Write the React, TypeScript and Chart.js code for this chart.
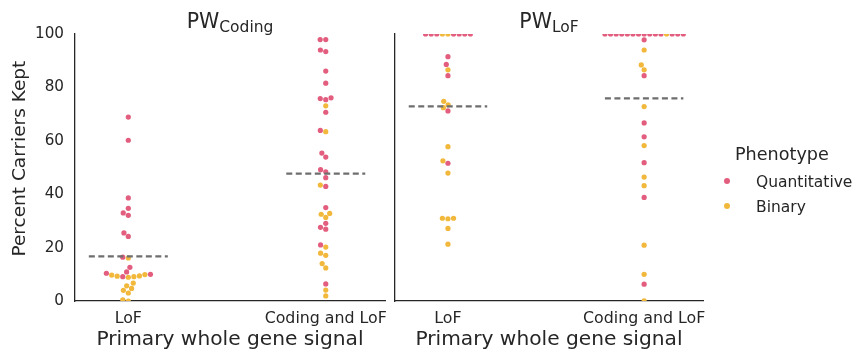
import React, { useEffect, useRef } from "react";
import { Chart, registerables } from "chart.js";

Chart.register(...registerables);

const FONT = "'DejaVu Sans', 'Liberation Sans', sans-serif";
const TEXT = "#262626";

const categories = ["LoF", "Coding and LoF"];
const panelSubscripts = ["Coding", "LoF"];
const hueNames = ["Quantitative", "Binary"];
const hueCodes = ["Q", "B"];
const hueColors = ["#E35D7E", "#F1B83C"];
const yTicks = [0, 20, 40, 60, 80, 100];
const yTitle = "   Percent Carriers Kept";
const xTitle = "Primary whole gene signal";

// Panel PW_Coding, category "LoF"
const codingPanelLoFValues = [68.9, 60.2, 38.6, 34.7, 33.0, 32.1, 25.5, 24.2, 16.4, 16.1, 12.6, 10.9, 10.4, 10.0, 9.9, 9.4, 9.1, 9.7, 9.3, 9.1, 8.9, 6.7, 5.7, 4.7, 4.0, 3.0, 0.4, 0.0];
const codingPanelLoFHues = ["Q", "Q", "Q", "Q", "Q", "Q", "Q", "Q", "Q", "B", "Q", "Q", "Q", "Q", "B", "B", "Q", "B", "B", "B", "B", "B", "B", "B", "B", "B", "B", "B"];

// Panel PW_Coding, category "Coding and LoF"
const codingPanelBothValues = [97.9, 97.9, 94.0, 93.4, 86.1, 81.6, 76.1, 75.8, 75.4, 73.1, 70.7, 63.9, 63.4, 55.4, 53.9, 49.2, 48.4, 46.2, 43.4, 42.9, 35.0, 32.8, 32.5, 31.3, 29.1, 27.6, 26.9, 21.0, 20.2, 17.9, 17.1, 14.0, 12.4, 6.4, 4.1, 1.9];
const codingPanelBothHues = ["Q", "Q", "Q", "Q", "Q", "Q", "Q", "Q", "Q", "B", "Q", "Q", "B", "Q", "Q", "Q", "Q", "Q", "B", "Q", "Q", "B", "B", "B", "Q", "Q", "Q", "Q", "B", "B", "B", "B", "B", "Q", "B", "B"];

// Panel PW_LoF, category "LoF"
const lofPanelLoFValues = [100, 100, 100, 100, 100, 100, 100, 100, 100, 91.5, 88.6, 86.6, 84.4, 74.8, 73.5, 72.4, 71.2, 57.8, 52.5, 51.6, 47.9, 31.0, 30.8, 31.0, 27.2, 21.3];
const lofPanelLoFHues = ["B", "B", "Q", "Q", "Q", "Q", "Q", "Q", "Q", "Q", "Q", "B", "Q", "B", "B", "B", "Q", "B", "B", "Q", "B", "B", "B", "B", "B", "B"];

// Panel PW_LoF, category "Coding and LoF"
const lofPanelBothValues = [100, 100, 100, 100, 100, 100, 100, 100, 100, 100, 100, 100, 100, 100, 100, 97.8, 94.0, 88.4, 86.6, 84.4, 72.8, 66.7, 61.5, 58.2, 51.8, 46.4, 43.2, 38.8, 20.9, 10.0, 6.3, 0.1];
const lofPanelBothHues = ["Q", "Q", "Q", "Q", "Q", "Q", "Q", "Q", "B", "Q", "Q", "Q", "Q", "Q", "Q", "Q", "B", "B", "B", "Q", "B", "Q", "Q", "B", "Q", "B", "B", "Q", "B", "B", "Q", "B"];

const codingPanelMedians = [16.7, 47.7];
const lofPanelMedians = [72.9, 75.9];

const panels = [
  {
    sub: panelSubscripts[0],
    groups: [
      { values: codingPanelLoFValues, hues: codingPanelLoFHues },
      { values: codingPanelBothValues, hues: codingPanelBothHues },
    ],
    medians: codingPanelMedians,
  },
  {
    sub: panelSubscripts[1],
    groups: [
      { values: lofPanelLoFValues, hues: lofPanelLoFHues },
      { values: lofPanelBothValues, hues: lofPanelBothHues },
    ],
    medians: lofPanelMedians,
  },
];

const SWARM_D = 5.6; // px spacing between swarm markers
const MEDIAN_HALF = 0.2;

function swarm(values: number[], hues: string[], center: number, xs: any, ys: any) {
  const d = SWARM_D;
  const cx = xs.getPixelForValue(center);
  const idx = values.map((_, i) => i).sort((a, b) => values[a] - values[b]);
  const placed: { x: number; y: number; i: number }[] = [];
  for (const i of idx) {
    const y = ys.getPixelForValue(values[i]);
    const nb = placed.filter((p) => Math.abs(p.y - y) < d);
    const cands: number[] = [cx];
    let leftFirst = true;
    for (const n of nb) {
      const dx = Math.sqrt(Math.max(0, d * d - (n.y - y) * (n.y - y)));
      if (leftFirst) cands.push(n.x - dx, n.x + dx);
      else cands.push(n.x + dx, n.x - dx);
      leftFirst = !leftFirst;
    }
    const order = cands
      .map((x, k) => ({ x, k, off: Math.round(Math.abs(x - cx) * 1000) }))
      .sort((a, b) => a.off - b.off || a.k - b.k);
    let chosen = cx;
    for (const c of order) {
      if (nb.every((n) => Math.hypot(n.x - c.x, n.y - y) >= d - 1e-3)) {
        chosen = c.x;
        break;
      }
    }
    placed.push({ x: chosen, y, i });
  }
  return placed.map((p) => ({ x: xs.getValueForPixel(p.x), y: values[p.i], hue: hues[p.i] }));
}

const titlePlugin = {
  id: "panelTitle",
  afterDraw(chart: any, _args: any, opts: any) {
    const { ctx, chartArea } = chart;
    const cx = (chartArea.left + chartArea.right) / 2;
    ctx.save();
    ctx.fillStyle = TEXT;
    ctx.textBaseline = "alphabetic";
    ctx.textAlign = "left";
    ctx.font = `20.5px ${FONT}`;
    const w1 = ctx.measureText("PW").width;
    ctx.font = `15.5px ${FONT}`;
    const w2 = ctx.measureText(opts.sub).width;
    const x0 = cx - (w1 + w2) / 2;
    ctx.font = `20.5px ${FONT}`;
    ctx.fillText("PW", x0, 27.5);
    ctx.font = `15.5px ${FONT}`;
    ctx.fillText(opts.sub, x0 + w1, 32);
    ctx.restore();
  },
};

const legendPlugin = {
  id: "hueLegend",
  afterDraw(chart: any, _args: any, opts: any) {
    if (!opts || !opts.show) return;
    const { ctx } = chart;
    const ox = opts.offsetX;
    ctx.save();
    ctx.fillStyle = TEXT;
    ctx.textAlign = "left";
    ctx.textBaseline = "alphabetic";
    ctx.font = `17.6px ${FONT}`;
    ctx.fillText("Phenotype", 735 - ox, 159.5);
    ctx.font = `15.5px ${FONT}`;
    const ys = [181, 206];
    hueNames.forEach((name, k) => {
      ctx.fillStyle = hueColors[k];
      ctx.beginPath();
      ctx.arc(727 - ox, ys[k], 3, 0, Math.PI * 2);
      ctx.fill();
      ctx.fillStyle = TEXT;
      ctx.fillText(name, 756 - ox, ys[k] + 5.5);
    });
    ctx.restore();
  },
};

const LEFT_W = 405;
const RIGHT_X = 390;
const RIGHT_W = 856 - RIGHT_X;

function buildChart(canvas: HTMLCanvasElement, panelIdx: number) {
  const panel = panels[panelIdx];
  const isLeft = panelIdx === 0;
  const pointSets = hueNames.map((name, k) => ({
    type: "scatter" as const,
    label: name,
    data: [] as any[],
    backgroundColor: hueColors[k],
    borderWidth: 0,
    pointRadius: 2.6,
    pointHoverRadius: 2.6,
    clip: 0,
    order: 2,
  }));
  const medianSets = panel.medians.map((m, ci) => ({
    type: "line" as const,
    label: "median " + categories[ci],
    data: [
      { x: ci - MEDIAN_HALF, y: m },
      { x: ci + MEDIAN_HALF, y: m },
    ],
    borderColor: "#6e6e6e",
    borderWidth: 2.2,
    borderDash: [6, 3.5],
    pointRadius: 0,
    fill: false,
    order: 1,
  }));

  const chart = new Chart(canvas, {
    type: "scatter",
    data: { datasets: [...pointSets, ...medianSets] as any },
    options: {
      responsive: false,
      animation: false,
      devicePixelRatio: 1,
      events: [],
      layout: {
        padding: { left: 0, right: isLeft ? LEFT_W - 385 : 153, top: 34, bottom: 0 },
      },
      plugins: {
        legend: { display: false },
        tooltip: { enabled: false },
        panelTitle: { sub: panel.sub },
        hueLegend: { show: !isLeft, offsetX: RIGHT_X },
      } as any,
      scales: {
        x: {
          type: "linear",
          min: -0.27,
          max: 1.3,
          afterBuildTicks: (s: any) => {
            s.ticks = categories.map((_, i) => ({ value: i }));
          },
          afterFit: (s: any) => {
            s.height = 53;
          },
          ticks: {
            callback: (v: any) => categories[v] ?? "",
            font: { family: FONT, size: 15.8 },
            color: TEXT,
            padding: 8,
            autoSkip: false,
            maxRotation: 0,
          },
          grid: { display: false, drawTicks: false },
          border: { display: true, color: TEXT, width: 1.3 },
          title: {
            display: true,
            text: xTitle,
            font: { family: FONT, size: 20.2 },
            color: TEXT,
            padding: { top: 0, bottom: 2 },
          },
        },
        y: {
          type: "linear",
          min: 0,
          max: 100,
          afterBuildTicks: (s: any) => {
            s.ticks = yTicks.map((v) => ({ value: v }));
          },
          afterFit: (s: any) => {
            s.width = isLeft ? 75 : 5;
          },
          ticks: {
            display: isLeft,
            font: { family: FONT, size: 15.2 },
            color: TEXT,
            padding: 11,
          },
          grid: { display: false, drawTicks: false },
          border: { display: true, color: TEXT, width: 1.3 },
          title: {
            display: isLeft,
            text: yTitle,
            font: { family: FONT, size: 18.5 },
            color: TEXT,
            padding: { top: 9, bottom: 0 },
          },
        },
      },
    } as any,
    plugins: [titlePlugin, legendPlugin],
  });

  const xs = chart.scales.x;
  const ys = chart.scales.y;
  const placedGroups = panel.groups.map((g, ci) => swarm(g.values, g.hues, ci, xs, ys));
  hueCodes.forEach((code, k) => {
    (chart.data.datasets[k] as any).data = placedGroups
      .flat()
      .filter((p) => p.hue === code)
      .map((p) => ({ x: p.x, y: p.y }));
  });
  chart.update();
  return chart;
}

export default function App() {
  const leftRef = useRef<HTMLCanvasElement>(null);
  const rightRef = useRef<HTMLCanvasElement>(null);

  useEffect(() => {
    Chart.defaults.font.family = FONT;
    const c1 = buildChart(leftRef.current!, 0);
    const c2 = buildChart(rightRef.current!, 1);
    return () => {
      c1.destroy();
      c2.destroy();
    };
  }, []);

  return (
    <div
      style={{
        position: "absolute",
        left: 0,
        top: 0,
        width: 856,
        height: 354,
        background: "#ffffff",
        overflow: "hidden",
      }}
    >
      <canvas
        ref={leftRef}
        width={LEFT_W}
        height={354}
        style={{ position: "absolute", left: 0, top: 0, width: LEFT_W, height: 354 }}
      />
      <canvas
        ref={rightRef}
        width={RIGHT_W}
        height={354}
        style={{ position: "absolute", left: RIGHT_X, top: 0, width: RIGHT_W, height: 354 }}
      />
    </div>
  );
}
